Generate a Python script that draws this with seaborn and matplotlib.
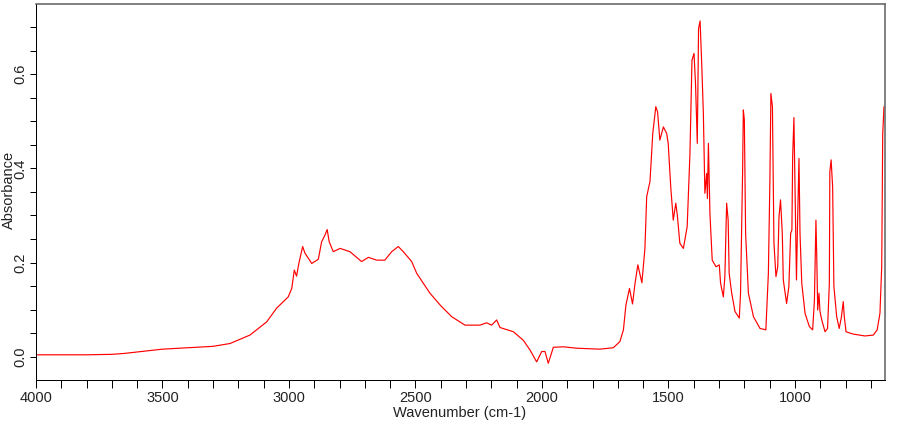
import numpy as np
import pandas as pd
import seaborn as sns
import matplotlib
matplotlib.use("Agg")
import matplotlib.pyplot as plt
from matplotlib.ticker import MultipleLocator

# Spectrum (wavenumber in cm-1, absorbance)
wavenumber = [
    4000, 3900, 3800, 3700, 3650, 3600, 3550, 3500, 3400, 3300, 3233,
    3154, 3088, 3049, 3003, 2989, 2979, 2970, 2961, 2946, 2937, 2910, 2884,
    2871, 2858, 2849, 2841, 2825, 2798, 2759, 2713, 2686, 2653, 2621, 2594,
    2568, 2548, 2515, 2495, 2443, 2403, 2357, 2304, 2245, 2219, 2199, 2179,
    2166, 2113, 2074, 2047, 2021, 2001, 1988, 1975, 1955, 1916, 1863, 1771,
    1718, 1692, 1678, 1668, 1654, 1642, 1632, 1621, 1605, 1593, 1586, 1573,
    1562, 1550, 1543, 1534, 1520, 1507, 1501, 1491, 1481, 1471, 1465, 1455,
    1441, 1426, 1415, 1407, 1399, 1393, 1386, 1381, 1375, 1369, 1362, 1356,
    1349, 1346, 1342, 1336, 1327, 1312, 1299, 1294, 1283, 1277, 1270, 1264,
    1260, 1250, 1237, 1220, 1215, 1207, 1204, 1200, 1195, 1184, 1164, 1138,
    1115, 1105, 1099, 1095, 1089, 1083, 1075, 1068, 1063, 1057, 1050, 1046,
    1033, 1024, 1017, 1012, 1009, 1004, 999, 994, 990, 984, 980, 973,
    960, 943, 930, 923, 917, 914, 910, 905, 901, 894, 881, 871,
    864, 862, 857, 851, 846, 835, 825, 817, 809, 805, 798, 770,
    723, 690, 675, 664, 657, 653, 648,
]
absorbance = [
    0.004, 0.004, 0.004, 0.005, 0.007, 0.010, 0.013, 0.016, 0.019, 0.022, 0.028,
    0.046, 0.074, 0.103, 0.127, 0.145, 0.184, 0.171, 0.198, 0.234, 0.220, 0.198, 0.207,
    0.244, 0.258, 0.270, 0.244, 0.223, 0.230, 0.223, 0.202, 0.211, 0.205, 0.205, 0.223,
    0.234, 0.223, 0.202, 0.177, 0.135, 0.110, 0.085, 0.067, 0.067, 0.072, 0.067, 0.078,
    0.062, 0.053, 0.035, 0.014, -0.011, 0.011, 0.011, -0.014, 0.020, 0.021, 0.018, 0.016,
    0.019, 0.032, 0.057, 0.110, 0.145, 0.112, 0.156, 0.195, 0.157, 0.230, 0.340, 0.372,
    0.474, 0.531, 0.520, 0.460, 0.488, 0.474, 0.453, 0.361, 0.290, 0.326, 0.301, 0.241,
    0.230, 0.276, 0.432, 0.630, 0.644, 0.580, 0.453, 0.697, 0.713, 0.630, 0.517, 0.347,
    0.389, 0.336, 0.453, 0.304, 0.205, 0.191, 0.195, 0.156, 0.127, 0.170, 0.326, 0.290,
    0.177, 0.135, 0.096, 0.082, 0.135, 0.389, 0.524, 0.503, 0.262, 0.135, 0.085, 0.060,
    0.057, 0.177, 0.375, 0.559, 0.531, 0.241, 0.170, 0.191, 0.297, 0.333, 0.262, 0.163,
    0.113, 0.149, 0.262, 0.269, 0.425, 0.508, 0.333, 0.163, 0.276, 0.421, 0.262, 0.156,
    0.092, 0.064, 0.057, 0.120, 0.290, 0.219, 0.099, 0.135, 0.096, 0.078, 0.053, 0.060,
    0.156, 0.393, 0.418, 0.361, 0.149, 0.085, 0.060, 0.082, 0.117, 0.085, 0.053, 0.048,
    0.044, 0.046, 0.057, 0.092, 0.191, 0.474, 0.531,
]

x_ticks = [4000, 3500, 3000, 2500, 2000, 1500, 1000]
x_tick_labels = ["4000", "3500", "3000", "2500", "2000", "1500", "1000"]
y_ticks = [0.0, 0.2, 0.4, 0.6]
y_tick_labels = ["0.0", "0.2", "0.4", "0.6"]

df = pd.DataFrame({"Wavenumber": wavenumber, "Absorbance": absorbance})

sns.set_theme(style="white")
plt.rcParams["font.family"] = ["Liberation Sans", "DejaVu Sans"]

PX = 72 / 100  # points per pixel at dpi 100

fig = plt.figure(figsize=(9.10, 4.25), dpi=100)
ax = fig.add_axes([36 / 910, 1 - 380 / 425, (885 - 36) / 910, (380 - 4) / 425])

sns.lineplot(data=df, x="Wavenumber", y="Absorbance", ax=ax, color="#ff0000",
             linewidth=0.85, estimator=None, sort=False)

ax.set_xlim(4000, 644)
ax.set_ylim(-0.0495, 0.749)

ax.set_xticks(x_ticks)
ax.set_xticklabels(x_tick_labels)
ax.set_yticks(y_ticks)
ax.set_yticklabels(y_tick_labels, rotation=90, va="center")
ax.xaxis.set_minor_locator(MultipleLocator(100))
ax.yaxis.set_minor_locator(MultipleLocator(0.05))

ax.tick_params(axis="both", which="both", direction="out", colors="black",
               labelsize=10.5, width=1.0 * PX)
ax.tick_params(axis="x", which="both", length=8 * PX, pad=3 * PX, bottom=True, top=False)
ax.tick_params(axis="y", which="both", length=6 * PX, pad=3 * PX, left=True, right=False)
for lab in ax.get_xticklabels() + ax.get_yticklabels():
    lab.set_color("#222222")

ax.set_xlabel("Wavenumber (cm-1)", fontsize=10.5, color="#222222")
ax.set_ylabel("Absorbance", fontsize=10.5, color="#222222")
ax.xaxis.set_label_coords((460 - 36) / 849, (380 - 413) / 376)
ax.xaxis.label.set_va("center")
ax.yaxis.set_label_coords((9 - 36) / 849, (380 - 190) / 376)
ax.yaxis.label.set_va("center")

for side in ["left", "bottom"]:
    ax.spines[side].set_color("black")
    ax.spines[side].set_linewidth(1.0 * PX)
for side in ["top", "right"]:
    ax.spines[side].set_color("#666666")
    ax.spines[side].set_linewidth(1.6 * PX)

ax.grid(False)
fig.savefig("out.png", dpi=100, facecolor="white")
